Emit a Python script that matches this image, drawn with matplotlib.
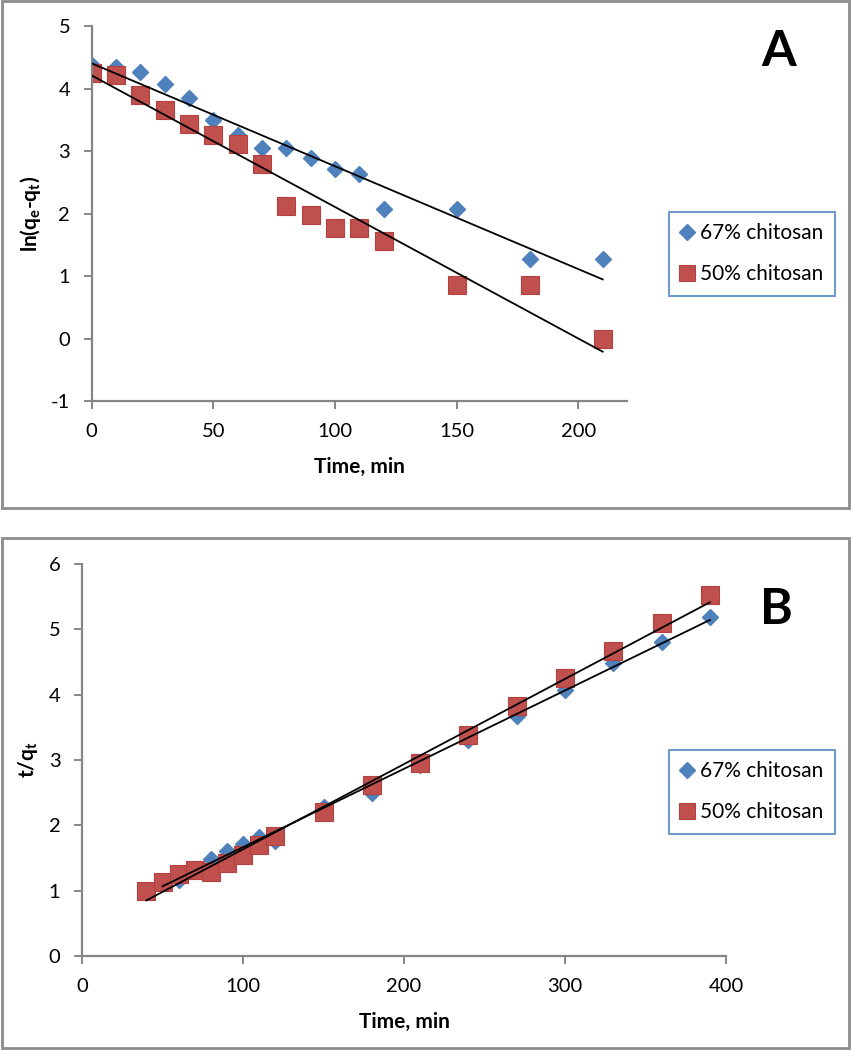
import numpy as np
import matplotlib.pyplot as plt
from matplotlib.patches import Rectangle

plt.rcParams['font.family'] = ['Lato', 'DejaVu Sans']
plt.rcParams['mathtext.fontset'] = 'custom'
plt.rcParams['mathtext.rm'] = 'Lato'
plt.rcParams['mathtext.bf'] = 'Lato:bold'
plt.rcParams['axes.unicode_minus'] = False

# Panel A: pseudo-first-order, ln(qe-qt) vs time
time_a = [0, 10, 20, 30, 40, 50, 60, 70, 80, 90, 100, 110, 120, 150, 180, 210]
ln_67 = [4.38, 4.35, 4.27, 4.07, 3.85, 3.50, 3.26, 3.05, 3.05, 2.89, 2.71, 2.63, 2.07, 2.07, 1.28, 1.28]
ln_50 = [4.25, 4.22, 3.90, 3.65, 3.44, 3.26, 3.12, 2.80, 2.12, 1.98, 1.77, 1.77, 1.56, 0.86, 0.86, 0.00]

# Panel B: pseudo-second-order, t/qt vs time
time_b67 = [50, 60, 70, 80, 90, 100, 110, 120, 150, 180, 210, 240, 270, 300, 330, 360, 390]
tq_67 = [1.15, 1.17, 1.30, 1.48, 1.60, 1.72, 1.82, 1.76, 2.28, 2.50, 2.92, 3.30, 3.68, 4.07, 4.48, 4.81, 5.19]
time_b50 = [40, 50, 60, 70, 80, 90, 100, 110, 120, 150, 180, 210, 240, 270, 300, 330, 360, 390]
tq_50 = [1.00, 1.13, 1.25, 1.31, 1.28, 1.43, 1.55, 1.70, 1.83, 2.20, 2.62, 2.96, 3.39, 3.82, 4.25, 4.67, 5.09, 5.52]

BLUE = '#4F81BD'
RED = '#C0504D'
GRAY = '#868686'

W, H = 852, 1050
fig = plt.figure(figsize=(W / 100, H / 100), dpi=100)


def px_axes(x0, x1, y0, y1):
    # pixel box -> figure fraction
    return fig.add_axes([x0 / W, 1 - y1 / H, (x1 - x0) / W, (y1 - y0) / H])


def style(ax):
    for s in ['top', 'right']:
        ax.spines[s].set_visible(False)
    for s in ['left', 'bottom']:
        ax.spines[s].set_color(GRAY)
        ax.spines[s].set_linewidth(1.6)
    ax.tick_params(direction='out', length=5.5, width=1.4, color=GRAY,
                   labelsize=14.5, pad=10)


def trend(ax, x, y):
    x = np.array(x, dtype=float)
    k, b = np.polyfit(x, y, 1)
    xs = np.array([x.min(), x.max()])
    ax.plot(xs, k * xs + b, color='black', lw=1.3, zorder=3)


def draw(ax, x67, y67, x50, y50):
    ax.plot(x67, y67, 'D', color=BLUE, ms=8.5, mec=BLUE, ls='none',
            label='67% chitosan', zorder=2)
    ax.plot(x50, y50, 's', color=RED, ms=13, mec='#B5413E', mew=0.8, ls='none',
            label='50% chitosan', zorder=2)
    trend(ax, x67, y67)
    trend(ax, x50, y50)


def legend(ax, x0, y0):
    leg = ax.legend(loc='upper left', bbox_to_anchor=(x0 / W, 1 - y0 / H),
                    bbox_transform=fig.transFigure, numpoints=1, fontsize=15,
                    frameon=True, fancybox=False, edgecolor=BLUE, borderpad=0.55,
                    handlelength=0.6, handletextpad=0.35, labelspacing=1.0,
                    borderaxespad=0, markerscale=0.9)
    leg.get_frame().set_linewidth(1.5)


# panel frames
fig.patches.append(Rectangle((2 / W, 1 - 508 / H), 847 / W, 507 / H, transform=fig.transFigure,
                             fill=False, ec='#8C8C8C', lw=2))
fig.patches.append(Rectangle((2 / W, 1 - 1048 / H), 847 / W, 510 / H, transform=fig.transFigure,
                             fill=False, ec='#8C8C8C', lw=2))

# ---- panel A
axa = px_axes(91.7, 627, 26, 401)
draw(axa, time_a, ln_67, time_a, ln_50)
axa.set_xlim(0, 220)
axa.set_ylim(-1, 5)
axa.set_xticks([0, 50, 100, 150, 200])
axa.set_yticks(np.arange(-1, 6, 1))
style(axa)
axa.set_xlabel('Time, min', fontsize=15, fontweight='bold')
axa.xaxis.set_label_coords(0.5, -0.176)
axa.set_ylabel(r'ln(q$_{\mathbf{e}}$-q$_{\mathbf{t}}$)', fontsize=15, fontweight='bold')
axa.yaxis.set_label_coords(-0.115, 0.5)
axa.get_xaxis().label.set_va('center')
axa.get_yaxis().label.set_va('center')
legend(axa, 669, 212)
fig.text(779 / W, 1 - 52 / H, 'A', fontsize=36, fontweight='bold', ha='center', va='center')

# ---- panel B
axb = px_axes(82, 726, 564, 956)
draw(axb, time_b67, tq_67, time_b50, tq_50)
axb.set_xlim(0, 400)
axb.set_ylim(0, 6)
axb.set_xticks([0, 100, 200, 300, 400])
axb.set_yticks(np.arange(0, 7, 1))
style(axb)
axb.set_xlabel('Time, min', fontsize=15, fontweight='bold')
axb.xaxis.set_label_coords(0.5, -0.168)
axb.set_ylabel(r't/q$_{\mathbf{t}}$', fontsize=15, fontweight='bold')
axb.yaxis.set_label_coords(-0.084, 0.5)
axb.get_xaxis().label.set_va('center')
axb.get_yaxis().label.set_va('center')
legend(axb, 669, 750)
fig.text(776 / W, 1 - 610 / H, 'B', fontsize=36, fontweight='bold', ha='center', va='center')

fig.savefig('out.png', dpi=100)
